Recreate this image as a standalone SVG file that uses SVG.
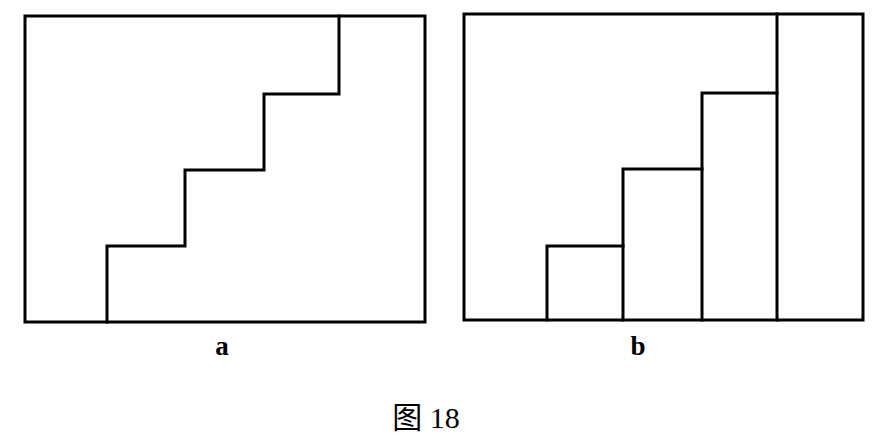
<svg xmlns="http://www.w3.org/2000/svg" width="888" height="448" viewBox="0 0 888 448">
<style>
.ln{fill:none;stroke:#000;stroke-width:3;stroke-linejoin:miter;stroke-linecap:square}
.lbl{font-family:"Liberation Serif","Noto Sans CJK SC",serif;fill:#000}
</style>
<rect width="888" height="448" fill="#fff"/>
<g id="panel-a">
<rect class="ln" x="25" y="16" width="400" height="306"/>
<polyline class="ln" points="107,322 107,246 185,246 185,170 264,170 264,94 339,94 339,16"/>
<text class="lbl" x="222" y="355" font-size="27" font-weight="bold" text-anchor="middle">a</text>
</g>
<g id="panel-b">
<rect class="ln" x="464" y="14" width="399" height="306"/>
<polyline class="ln" points="547,320 547,246 623,246"/>
<polyline class="ln" points="623,320 623,169 702,169"/>
<polyline class="ln" points="702,320 702,93 777,93"/>
<line class="ln" x1="777" y1="14" x2="777" y2="320"/>
<text class="lbl" x="638" y="355" font-size="27" font-weight="bold" text-anchor="middle">b</text>
</g>
<text class="lbl" x="426" y="428" font-size="30" text-anchor="middle">图 18</text>
</svg>
